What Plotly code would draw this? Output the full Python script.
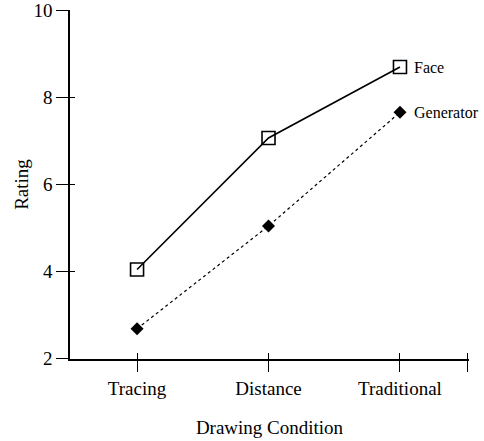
import plotly.graph_objects as go

conditions = ["Tracing", "Distance", "Traditional"]
face = [4.05, 7.07, 8.70]
generator = [2.69, 5.05, 7.66]
series_names = ["Face", "Generator"]
y_ticks = [2, 4, 6, 8, 10]

xpos = list(range(len(conditions)))
FONT = "Liberation Serif, Times New Roman, serif"

fig = go.Figure()
fig.add_trace(go.Scatter(
    x=xpos, y=face, mode="lines+markers", name=series_names[0],
    line=dict(color="black", width=1.6),
    marker=dict(symbol="square-open", size=13, color="black", line=dict(width=1.6)),
    cliponaxis=False,
))
fig.add_trace(go.Scatter(
    x=xpos, y=generator, mode="lines+markers", name=series_names[1],
    line=dict(color="black", width=1.2, dash="dot"),
    marker=dict(symbol="diamond", size=10, color="black"),
    cliponaxis=False,
))
# invisible traces on overlay axes (for inside tick marks)
fig.add_trace(go.Scatter(x=[xpos[0]], y=[y_ticks[0]], xaxis="x2", yaxis="y",
                         mode="markers", marker=dict(opacity=0), showlegend=False,
                         hoverinfo="skip"))
fig.add_trace(go.Scatter(x=[xpos[0]], y=[y_ticks[0]], xaxis="x", yaxis="y2",
                         mode="markers", marker=dict(opacity=0), showlegend=False,
                         hoverinfo="skip"))

for name, vals in zip(series_names, [face, generator]):
    fig.add_annotation(x=xpos[-1], y=vals[-1], text=name, showarrow=False,
                       xanchor="left", yanchor="middle", xshift=12,
                       font=dict(family=FONT, size=16, color="black"))

xrange = [-0.51, 2.525]
yrange = [1.995, 10.01]
xt = xpos + [2.515]
common_x = dict(range=xrange, tickvals=xt, showline=True, linecolor="black",
                linewidth=1.5, tickcolor="black", tickwidth=1.3, showgrid=False,
                zeroline=False, automargin=False)
common_y = dict(range=yrange, tickvals=y_ticks, showline=True, linecolor="black",
                linewidth=1.5, tickcolor="black", tickwidth=1.3, showgrid=False,
                zeroline=False, automargin=False)

fig.update_layout(
    width=484, height=441,
    margin=dict(l=70, r=15, t=10, b=82),
    plot_bgcolor="white", paper_bgcolor="white",
    showlegend=False,
    font=dict(family=FONT, size=19, color="black"),
    xaxis=dict(**common_x, ticktext=conditions + [""], ticks="outside", ticklen=11,
               tickfont=dict(family=FONT, size=19),
               title=dict(text="Drawing Condition", standoff=23,
                          font=dict(family=FONT, size=19))),
    yaxis=dict(**common_y, ticks="outside", ticklen=12,
               tickfont=dict(family=FONT, size=19),
               title=dict(text="Rating", standoff=0,
                          font=dict(family=FONT, size=19))),
    xaxis2=dict(**common_x, overlaying="x", ticks="inside", ticklen=6,
                showticklabels=False, side="bottom", anchor="y"),
    yaxis2=dict(**common_y, overlaying="y", ticks="inside", ticklen=5,
                showticklabels=False, side="left", anchor="x"),
)

fig.write_html("out.html", config={"displayModeBar": False},
               post_script="document.body.style.margin='0';")
